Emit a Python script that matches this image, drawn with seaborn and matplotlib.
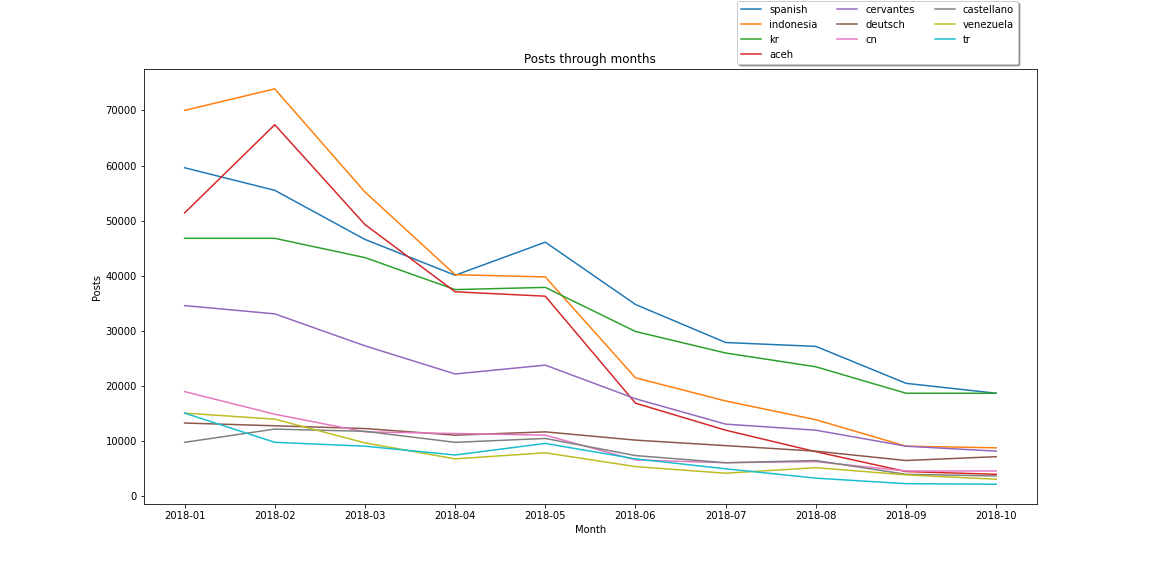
import matplotlib
matplotlib.use("Agg")
import matplotlib.pyplot as plt
import seaborn as sns
import pandas as pd

months = ["2018-01", "2018-02", "2018-03", "2018-04", "2018-05",
          "2018-06", "2018-07", "2018-08", "2018-09", "2018-10"]

spanish    = [59600, 55500, 46600, 40100, 46100, 34800, 27900, 27200, 20500, 18700]
indonesia  = [70000, 73900, 55200, 40200, 39800, 21500, 17300, 13900,  9100,  8800]
kr         = [46800, 46800, 43300, 37500, 37900, 29900, 26000, 23500, 18700, 18700]
aceh       = [51400, 67400, 49300, 37100, 36300, 16900, 12000,  8100,  4500,  4000]
cervantes  = [34600, 33100, 27300, 22200, 23800, 17700, 13100, 12000,  9100,  8200]
deutsch    = [13300, 12800, 12300, 11100, 11700, 10200,  9200,  8200,  6500,  7200]
cn         = [19000, 14900, 11700, 11400, 11100,  6600,  6100,  6300,  4600,  4600]
castellano = [ 9800, 12200, 11800,  9800, 10500,  7400,  6100,  6500,  4000,  3700]
venezuela  = [15100, 14000,  9700,  6800,  7900,  5400,  4200,  5200,  3900,  3100]
tr         = [15100,  9800,  9100,  7500,  9600,  6800,  5000,  3300,  2300,  2200]

series_names = ["spanish", "indonesia", "kr", "aceh", "cervantes",
                "deutsch", "cn", "castellano", "venezuela", "tr"]
series_values = [spanish, indonesia, kr, aceh, cervantes,
                 deutsch, cn, castellano, venezuela, tr]

rows = []
for name, vals in zip(series_names, series_values):
    for m, v in zip(months, vals):
        rows.append({"Month": m, "Posts": v, "topic": name})
df = pd.DataFrame(rows)

fig, ax = plt.subplots(figsize=(16, 8), dpi=72)
fig.subplots_adjust(left=0.125, right=0.9, bottom=0.125, top=0.88)

sns.lineplot(data=df, x="Month", y="Posts", hue="topic",
             hue_order=series_names, palette="tab10", ax=ax, linewidth=1.5)

ax.set_title("Posts through months")
ax.set_xlabel("Month")
ax.set_ylabel("Posts")

handles, labels = ax.get_legend_handles_labels()
ax.legend(handles, labels, ncol=3, shadow=True, loc="lower left",
          bbox_to_anchor=(0.6398, 0.889), bbox_transform=fig.transFigure,
          borderaxespad=0)

fig.savefig("out.png", dpi=72)
